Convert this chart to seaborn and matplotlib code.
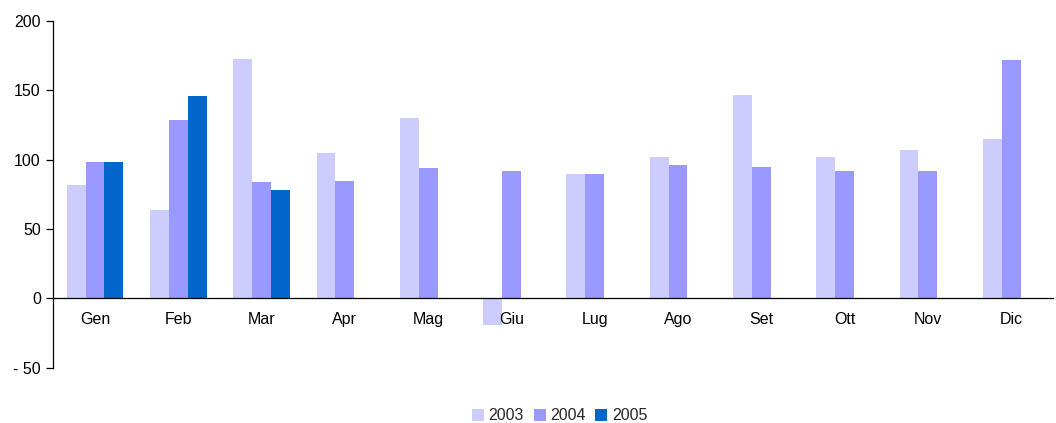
import matplotlib
matplotlib.use("Agg")
import matplotlib.pyplot as plt
import seaborn as sns
import numpy as np
import pandas as pd
from matplotlib.ticker import FixedLocator

months = ["Gen", "Feb", "Mar", "Apr", "Mag", "Giu", "Lug", "Ago", "Set", "Ott", "Nov", "Dic"]
years = ["2003", "2004", "2005"]
v2003 = [82, 64, 173, 105, 130, -19, 90, 102, 147, 102, 107, 115]
v2004 = [98, 129, 84, 85, 94, 92, 90, 96, 95, 92, 92, 172]
v2005 = [98, 146, 78, np.nan, np.nan, np.nan, np.nan, np.nan, np.nan, np.nan, np.nan, np.nan]
colors = ["#CCCCFF", "#9999FF", "#0066CC"]
yticks = [-50, 0, 50, 100, 150, 200]
ytick_labels = ["- 50", "0", "50", "100", "150", "200"]

rows = []
for y, vals in zip(years, [v2003, v2004, v2005]):
    for m, v in zip(months, vals):
        rows.append({"Mese": m, "Anno": y, "Valore": v})
df = pd.DataFrame(rows)

sns.set_theme(style="white")
plt.rcParams["font.family"] = ["Liberation Sans", "DejaVu Sans"]
FS = 11.5

fig = plt.figure(figsize=(10.56, 4.23), dpi=100)
ax = fig.add_axes([0.0505, 0.131, 0.9465, 0.819])

sns.barplot(data=df, x="Mese", y="Valore", hue="Anno", order=months, hue_order=years,
            palette=colors, width=0.68, saturation=1, errorbar=None, ax=ax, linewidth=0)

ax.set_xlim(-0.5, len(months) - 0.5)
ax.set_ylim(-50, 200)
ax.set_yticks(yticks)
ax.set_yticklabels(ytick_labels, fontsize=FS, color="black")
ax.set_xlabel("")
ax.set_ylabel("")

for s in ["top", "right"]:
    ax.spines[s].set_visible(False)
ax.spines["bottom"].set_position(("data", 0))
for s in ["left", "bottom"]:
    ax.spines[s].set_color("black")
    ax.spines[s].set_linewidth(0.9)
    ax.spines[s].set_zorder(6)

ax.tick_params(axis="x", which="major", length=0, pad=10, labelsize=FS, labelcolor="black")
ax.xaxis.set_minor_locator(FixedLocator(np.arange(-0.5, len(months), 1.0)))
ax.tick_params(axis="x", which="minor", length=5, direction="out", color="black", width=0.9)
ax.tick_params(axis="y", length=5, direction="out", color="black", width=0.9, pad=4, left=True)
ax.xaxis.set_zorder(6)

handles, labels = ax.get_legend_handles_labels()
ax.legend_.remove()
fig.legend(handles, labels, loc="center", bbox_to_anchor=(0.530, 0.017), ncol=3, frameon=False,
           fontsize=FS, handlelength=0.75, handleheight=0.75, handletextpad=0.3,
           columnspacing=0.6, borderpad=0)

fig.savefig("out.png", dpi=100)
